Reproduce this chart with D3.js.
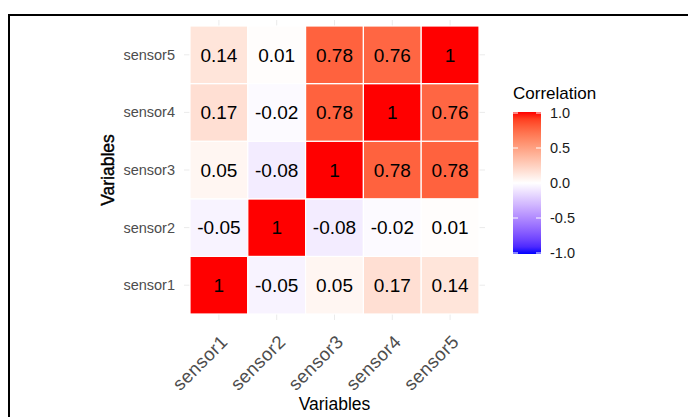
<!DOCTYPE html>
<html>
<head>
<meta charset="utf-8">
<script src="https://cdn.jsdelivr.net/npm/d3@7"></script>
<style>
  html, body { margin: 0; padding: 0; background: #fff; }
  svg { display: block; font-family: "Liberation Sans", Arial, sans-serif; }
</style>
</head>
<body>
<svg id="chart" width="688" height="417"></svg>
<script>
// Sensor correlation matrix (rows listed sensor1..sensor5, columns sensor1..sensor5)
const variables = ["sensor1", "sensor2", "sensor3", "sensor4", "sensor5"];
const sensor1 = [1, -0.05, 0.05, 0.17, 0.14];
const sensor2 = [-0.05, 1, -0.08, -0.02, 0.01];
const sensor3 = [0.05, -0.08, 1, 0.78, 0.78];
const sensor4 = [0.17, -0.02, 0.78, 1, 0.76];
const sensor5 = [0.14, 0.01, 0.78, 0.76, 1];
const legendTicks = [1.0, 0.5, 0.0, -0.5, -1.0];

const rows = [sensor1, sensor2, sensor3, sensor4, sensor5];
const cells = [];
rows.forEach((vals, i) => vals.forEach((v, j) => {
  cells.push({ row: variables[i], col: variables[j], value: v });
}));

const svg = d3.select("#chart");

// outer frame
svg.append("rect")
  .attr("x", 9).attr("y", 15)
  .attr("width", 720).attr("height", 440)
  .attr("fill", "none").attr("stroke", "#000").attr("stroke-width", 2);

const tileX0 = 190, tileX1 = 479, tileY0 = 26, tileY1 = 314;
const x = d3.scaleBand().domain(variables).range([tileX0, tileX1]).padding(0);
const y = d3.scaleBand().domain(variables.slice().reverse()).range([tileY0, tileY1]).padding(0);
const panelPad = 6;

// diverging fill: blue - white - red, interpolated in Lab
const color = d3.scaleDiverging()
  .domain([-1, 0, 1])
  .interpolator(t => t < 0.5
    ? d3.interpolateLab("#0000ff", "#ffffff")(t * 2)
    : d3.interpolateLab("#ffffff", "#ff0000")((t - 0.5) * 2));

// grid lines
const grid = svg.append("g").attr("stroke", "#ebebeb").attr("stroke-width", 1);
variables.forEach(v => {
  const cx = x(v) + x.bandwidth() / 2;
  grid.append("line").attr("x1", cx).attr("x2", cx)
    .attr("y1", tileY0 - panelPad).attr("y2", tileY1 + panelPad);
  const cy = y(v) + y.bandwidth() / 2;
  grid.append("line").attr("y1", cy).attr("y2", cy)
    .attr("x1", tileX0 - panelPad).attr("x2", tileX1 + panelPad);
});

// tiles
svg.append("g").selectAll("rect").data(cells).join("rect")
  .attr("x", d => x(d.col)).attr("y", d => y(d.row))
  .attr("width", x.bandwidth()).attr("height", y.bandwidth())
  .attr("fill", d => color(d.value))
  .attr("stroke", "#fff").attr("stroke-width", 1.2);

// value labels (plain hyphen for negatives)
svg.append("g").selectAll("text").data(cells).join("text")
  .attr("x", d => x(d.col) + x.bandwidth() / 2)
  .attr("y", d => y(d.row) + y.bandwidth() / 2)
  .attr("dy", "0.36em")
  .attr("text-anchor", "middle")
  .attr("font-size", 19).attr("fill", "#000")
  .text(d => String(d.value));

// y axis labels
svg.append("g").selectAll("text").data(variables).join("text")
  .attr("x", 175)
  .attr("y", d => y(d) + y.bandwidth() / 2)
  .attr("dy", "0.35em")
  .attr("text-anchor", "end")
  .attr("font-size", 14.5).attr("fill", "#4d4d4d")
  .text(d => d);

// x axis labels, rotated
svg.append("g").selectAll("text").data(variables).join("text")
  .attr("transform", d => `translate(${x(d) + x.bandwidth() / 2 + 10},${343}) rotate(-45)`)
  .attr("text-anchor", "end")
  .attr("font-size", 18.5).attr("letter-spacing", 0.4).attr("fill", "#4d4d4d")
  .text(d => d);

// axis titles
svg.append("text")
  .attr("x", (tileX0 + tileX1) / 2).attr("y", 410)
  .attr("text-anchor", "middle").attr("font-size", 17.5).attr("fill", "#000")
  .text("Variables");
svg.append("text")
  .attr("transform", `translate(114,${(tileY0 + tileY1) / 2}) rotate(-90)`)
  .attr("text-anchor", "middle").attr("font-size", 17.5).attr("fill", "#000")
  .attr("stroke", "#000").attr("stroke-width", 0.4)
  .text("Variables");

// legend
const legX = 513, legW = 28, legTop = 112, legBot = 254;
const ly = d3.scaleLinear().domain([-1, 1]).range([legBot - 1, legTop + 1]);
const defs = svg.append("defs");
const grad = defs.append("linearGradient").attr("id", "corrGrad")
  .attr("x1", 0).attr("y1", 1).attr("x2", 0).attr("y2", 0);
d3.range(0, 1.0001, 0.05).forEach(t => {
  grad.append("stop").attr("offset", t).attr("stop-color", color(-1 + 2 * t));
});
svg.append("text").attr("x", legX).attr("y", 99)
  .attr("font-size", 17).attr("fill", "#000").text("Correlation");
svg.append("rect").attr("x", legX).attr("y", legTop)
  .attr("width", legW).attr("height", legBot - legTop)
  .attr("fill", "url(#corrGrad)");
const lt = svg.append("g").attr("stroke", "#fff").attr("stroke-width", 1);
legendTicks.forEach(v => {
  lt.append("line").attr("x1", legX).attr("x2", legX + 5).attr("y1", ly(v)).attr("y2", ly(v));
  lt.append("line").attr("x1", legX + legW - 5).attr("x2", legX + legW).attr("y1", ly(v)).attr("y2", ly(v));
});
svg.append("g").selectAll("text").data(legendTicks).join("text")
  .attr("x", 550).attr("y", d => ly(d)).attr("dy", "0.35em")
  .attr("font-size", 14.5).attr("fill", "#1a1a1a")
  .text(d => d3.format(".1f")(d).replace("−", "-"));
</script>
</body>
</html>
